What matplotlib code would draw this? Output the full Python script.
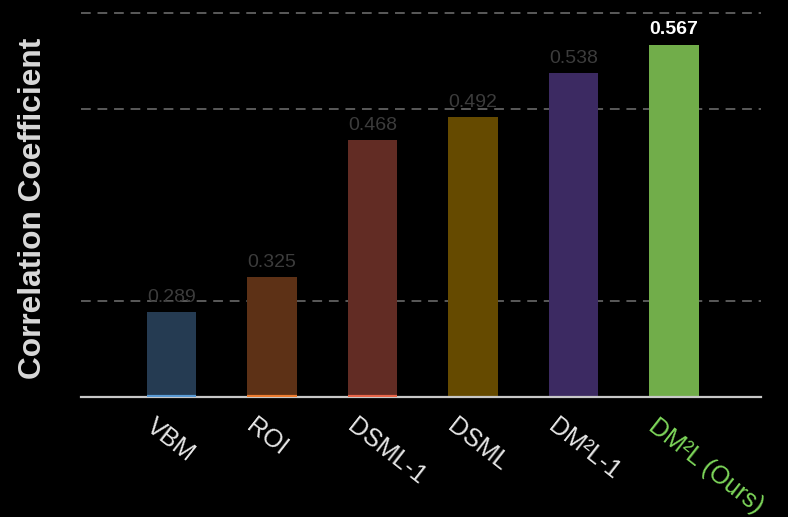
import matplotlib.pyplot as plt
from matplotlib.transforms import ScaledTranslation

# 各手法の相関係数
methods = ["VBM", "ROI", "DSML-1", "DSML", "DM²L-1", "DM²L (Ours)"]
scores = [0.289, 0.325, 0.468, 0.492, 0.538, 0.567]
grid_levels = [0.3, 0.5, 0.6]

# 色
bar_colors = ["#253b52", "#5d3116", "#622c24", "#654a00", "#3c2a62", "#71ad4a"]
edge_colors = ["#5b9bd5", "#ed7d31", "#e8664a", None, None, None]
label_colors = ["#e6e6e6"] * 5 + ["#7dd65a"]

plt.rcParams['font.family'] = ['Liberation Sans', 'DejaVu Sans']

fig = plt.figure(figsize=(7.88, 5.17), dpi=100, facecolor="black")
ax = fig.add_axes([81 / 788, 120 / 517, 680 / 788, 397 / 517])
ax.set_facecolor("black")

x = list(range(len(methods)))
ax.set_xlim(-0.90, 5.866)
ax.set_ylim(0.2, 0.2 + 397 / 960)

# 破線のグリッド
for g in grid_levels:
    ax.axhline(g, color="#5a5a5a", lw=1.4, ls=(0, (5, 3.5)), zorder=0)

bars = ax.bar(x, scores, width=0.49, bottom=0, color=bar_colors, linewidth=0, zorder=2)

# 棒の下端のアクセント線
for xi, ec in zip(x, edge_colors):
    if ec:
        ax.plot([xi - 0.245, xi + 0.245], [0.2015, 0.2015], color=ec, lw=1.6,
                solid_capstyle="butt", zorder=3)

# 数値ラベル
for i, (xi, v) in enumerate(zip(x, scores)):
    if i == len(scores) - 1:
        ax.annotate(f"{v:.3f}", (xi, v), xytext=(0, 5), textcoords="offset points",
                    ha="center", va="bottom", fontsize=14, fontweight="bold",
                    color="white", zorder=4)
    else:
        ax.annotate(f"{v:.3f}", (xi, v), xytext=(0, 4), textcoords="offset points",
                    ha="center", va="bottom", fontsize=14, color="#3c3c3c", zorder=4)

# 軸の体裁
for side in ["left", "right", "top"]:
    ax.spines[side].set_visible(False)
ax.spines["bottom"].set_color("#c8c8c8")
ax.spines["bottom"].set_linewidth(1.6)
ax.spines["bottom"].set_zorder(2.5)
ax.set_yticks([])
ax.set_xticks(x)
ax.set_xticklabels(methods, rotation=-38, ha="left", rotation_mode="anchor", fontsize=18)
ax.tick_params(axis="x", length=0, pad=12)
offset = ScaledTranslation(-15 / 100, 0, fig.dpi_scale_trans)
for lbl, c in zip(ax.get_xticklabels(), label_colors):
    lbl.set_color(c)
    lbl.set_transform(lbl.get_transform() + offset)

ax.set_ylabel("Correlation Coefficient", fontsize=22.8, fontweight="bold", color="#d9d9d9")
ax.yaxis.set_label_coords(-33 / 680, (397 - 208) / 397)

fig.savefig("out.png", dpi=100, facecolor="black")
